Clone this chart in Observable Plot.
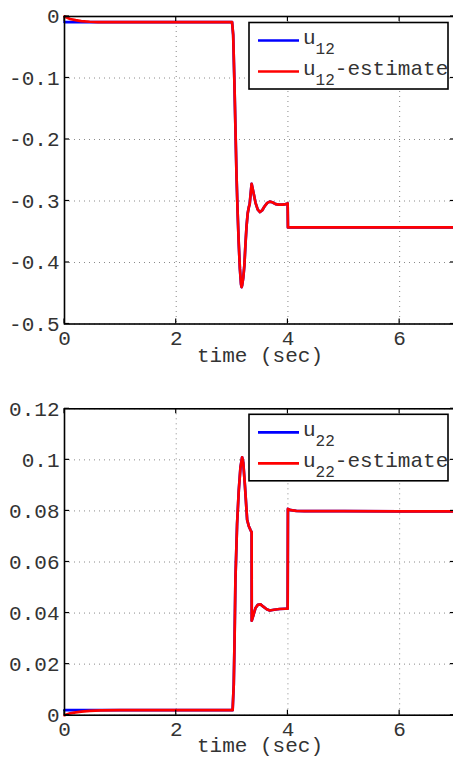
<!DOCTYPE html>
<html><head><meta charset="utf-8">
<script src="https://cdn.jsdelivr.net/npm/d3@7"></script>
<script src="https://cdn.jsdelivr.net/npm/@observablehq/plot@0.6"></script>
<style>
body{margin:0;background:#fff;}
svg{display:block;}
</style></head><body><div id="c"></div>
<script>
// ---- shared axis data ----
const xTicks = [0, 2, 4, 6];
const xDomain = [0, 7];
const xLabel = "time (sec)";

// ---- top panel: u12 ----
const yTicksTop = [0, -0.1, -0.2, -0.3, -0.4, -0.5];
const yDomainTop = [-0.5, 0];
const legendTop = [
  {name: "u", sub: "12", suffix: "", color: "#0000ff"},
  {name: "u", sub: "12", suffix: "-estimate", color: "#ff0000"}
];
const tU12 = [0, 1, 2, 3.0, 3.02, 3.04, 3.06, 3.08, 3.10, 3.12, 3.14, 3.16, 3.17, 3.18, 3.20, 3.22, 3.24, 3.26, 3.28, 3.30, 3.315, 3.35, 3.38, 3.42, 3.46, 3.50, 3.54, 3.58, 3.63, 3.675, 3.72, 3.78, 3.84, 3.90, 3.96, 3.995, 4.0, 4.5, 5, 6, 7];
const u12 = [-0.009, -0.009, -0.009, -0.009, -0.03, -0.10, -0.18, -0.26, -0.32, -0.37, -0.41, -0.435, -0.44, -0.437, -0.425, -0.405, -0.37, -0.34, -0.32, -0.31, -0.305, -0.272, -0.285, -0.303, -0.314, -0.318, -0.315, -0.309, -0.303, -0.301, -0.302, -0.305, -0.306, -0.306, -0.305, -0.304, -0.343, -0.343, -0.343, -0.343, -0.343];
const tU12est = [0, 0.05, 0.1, 0.2, 0.3, 0.45, 0.6, 1, 2, 3.0, 3.02, 3.04, 3.06, 3.08, 3.10, 3.12, 3.14, 3.16, 3.17, 3.18, 3.20, 3.22, 3.24, 3.26, 3.28, 3.30, 3.315, 3.35, 3.38, 3.42, 3.46, 3.50, 3.54, 3.58, 3.63, 3.675, 3.72, 3.78, 3.84, 3.90, 3.96, 3.995, 4.0, 4.5, 5, 6, 7];
const u12est = [0, -0.002, -0.004, -0.006, -0.0075, -0.0085, -0.009, -0.009, -0.009, -0.009, -0.03, -0.10, -0.18, -0.26, -0.32, -0.37, -0.41, -0.435, -0.44, -0.437, -0.425, -0.405, -0.37, -0.34, -0.32, -0.31, -0.305, -0.272, -0.285, -0.303, -0.314, -0.318, -0.315, -0.309, -0.303, -0.301, -0.302, -0.305, -0.306, -0.306, -0.305, -0.304, -0.343, -0.343, -0.343, -0.343, -0.343];

// ---- bottom panel: u22 ----
const yTicksBottom = [0, 0.02, 0.04, 0.06, 0.08, 0.1, 0.12];
const yDomainBottom = [0, 0.12];
const legendBottom = [
  {name: "u", sub: "22", suffix: "", color: "#0000ff"},
  {name: "u", sub: "22", suffix: "-estimate", color: "#ff0000"}
];
const tU22 = [0, 1, 2, 3.0, 3.01, 3.03, 3.045, 3.06, 3.09, 3.12, 3.15, 3.18, 3.20, 3.23, 3.27, 3.30, 3.33, 3.35, 3.352, 3.38, 3.42, 3.46, 3.51, 3.56, 3.62, 3.675, 3.75, 3.85, 3.95, 3.995, 4.0, 4.05, 4.15, 4.3, 5, 6, 7];
const u22 = [0.002, 0.002, 0.002, 0.002, 0.002, 0.012, 0.03, 0.053, 0.075, 0.088, 0.097, 0.101, 0.099, 0.09, 0.0765, 0.074, 0.0725, 0.0717, 0.037, 0.039, 0.042, 0.0432, 0.0434, 0.0425, 0.0415, 0.041, 0.0413, 0.0416, 0.0417, 0.0417, 0.0808, 0.0803, 0.08, 0.0799, 0.0799, 0.0798, 0.0798];
const tU22est = [0, 0.05, 0.1, 0.2, 0.3, 0.45, 0.65, 1, 2, 3.0, 3.01, 3.03, 3.045, 3.06, 3.09, 3.12, 3.15, 3.18, 3.20, 3.23, 3.27, 3.30, 3.33, 3.35, 3.352, 3.38, 3.42, 3.46, 3.51, 3.56, 3.62, 3.675, 3.75, 3.85, 3.95, 3.995, 4.0, 4.05, 4.15, 4.3, 5, 6, 7];
const u22est = [0, 0.0004, 0.0007, 0.0011, 0.0014, 0.0017, 0.0019, 0.002, 0.002, 0.002, 0.002, 0.012, 0.03, 0.053, 0.075, 0.088, 0.097, 0.101, 0.099, 0.09, 0.0765, 0.074, 0.0725, 0.0717, 0.037, 0.039, 0.042, 0.0432, 0.0434, 0.0425, 0.0415, 0.041, 0.0413, 0.0416, 0.0417, 0.0417, 0.0808, 0.0803, 0.08, 0.0799, 0.0799, 0.0798, 0.0798];

const FONT = "'Liberation Mono', 'DejaVu Sans Mono', monospace";
const TEXT = "#333333";
const FS = 21;
const fmt = d => String(+d.toFixed(2));

function panel(o) {
  const d1 = o.t1.map((t, i) => ({t, v: o.v1[i]}));
  const d2 = o.t2.map((t, i) => ({t, v: o.v2[i]}));
  const gridStyle = {stroke: "#8a8a8a", strokeOpacity: 1, strokeWidth: 1, strokeDasharray: "1,4"};
  const chart = Plot.plot({
    width: 453, height: o.height,
    marginLeft: 64, marginRight: -2, marginTop: o.mt, marginBottom: o.mb,
    style: {fontFamily: FONT, fontSize: FS + "px", color: TEXT, background: "white", overflow: "visible"},
    x: {domain: xDomain},
    y: {domain: o.ydomain},
    marks: [
      Plot.gridX(xTicks, gridStyle),
      Plot.gridY(o.yTicks, gridStyle),
      Plot.axisX(xTicks, {tickSize: 0, tickPadding: 6, fontSize: FS, tickFormat: fmt, label: null}),
      Plot.axisY(o.yTicks, {tickSize: 0, tickPadding: 5, fontSize: FS, tickFormat: fmt, label: null}),
      Plot.text([xLabel], {frameAnchor: "bottom", dy: o.labelDy, lineAnchor: "middle", fontSize: FS, fill: TEXT}),
      Plot.line(d1, {x: "t", y: "v", stroke: o.legend[0].color, strokeWidth: 2.7}),
      Plot.line(d2, {x: "t", y: "v", stroke: o.legend[1].color, strokeWidth: 2.7}),
      Plot.frame({stroke: "black", strokeWidth: 1.6})
    ]
  });
  const sx = chart.scale("x"), sy = chart.scale("y");
  const [x0, x1] = sx.range;
  const yb = Math.max(...sy.range), yt = Math.min(...sy.range);
  const svg = d3.select(chart);
  const g = svg.append("g").attr("stroke", "black").attr("stroke-width", 1.2);
  const L = 5;
  xTicks.forEach(v => {
    const x = sx.apply(v);
    g.append("line").attr("x1", x).attr("x2", x).attr("y1", yb).attr("y2", yb - L);
    g.append("line").attr("x1", x).attr("x2", x).attr("y1", yt).attr("y2", yt + L);
  });
  o.yTicks.forEach(v => {
    const y = sy.apply(v);
    g.append("line").attr("x1", x0).attr("x2", x0 + L).attr("y1", y).attr("y2", y);
    g.append("line").attr("x1", x1).attr("x2", x1 - L).attr("y1", y).attr("y2", y);
  });
  // legend box
  const bw = 199, bh = 66.5;
  const bx = x1 - 7 - bw, by = yt + o.legendDy;
  const lg = svg.append("g").attr("text-anchor", "start");
  lg.append("rect").attr("x", bx).attr("y", by).attr("width", bw).attr("height", bh)
    .attr("fill", "white").attr("stroke", "black").attr("stroke-width", 1.6);
  const rows = [18, 49];
  o.legend.forEach((e, i) => {
    const ry = by + rows[i];
    lg.append("line").attr("x1", bx + 9).attr("x2", bx + 50).attr("y1", ry).attr("y2", ry)
      .attr("stroke", e.color).attr("stroke-width", 2.7);
    const tx = lg.append("text").attr("x", bx + 54).attr("y", ry + 3.5)
      .attr("text-anchor", "start")
      .attr("font-family", FONT).attr("font-size", FS).attr("fill", TEXT);
    tx.append("tspan").text(e.name);
    tx.append("tspan").attr("dy", 10).attr("font-size", 16).text(e.sub);
    if (e.suffix) tx.append("tspan").attr("dy", -10).text(e.suffix);
  });
  return chart;
}

const c = document.getElementById("c");
c.appendChild(panel({
  height: 375, mt: 16, mb: 51.5, ydomain: yDomainTop, yTicks: yTicksTop,
  t1: tU12, v1: u12, t2: tU12est, v2: u12est, legend: legendTop, legendDy: 6.5, labelDy: 31.5
}));
c.appendChild(panel({
  height: 382, mt: 33.3, mb: 42.3, ydomain: yDomainBottom, yTicks: yTicksBottom,
  t1: tU22, v1: u22, t2: tU22est, v2: u22est, legend: legendBottom, legendDy: 6, labelDy: 30
}));
</script>
</body></html>
